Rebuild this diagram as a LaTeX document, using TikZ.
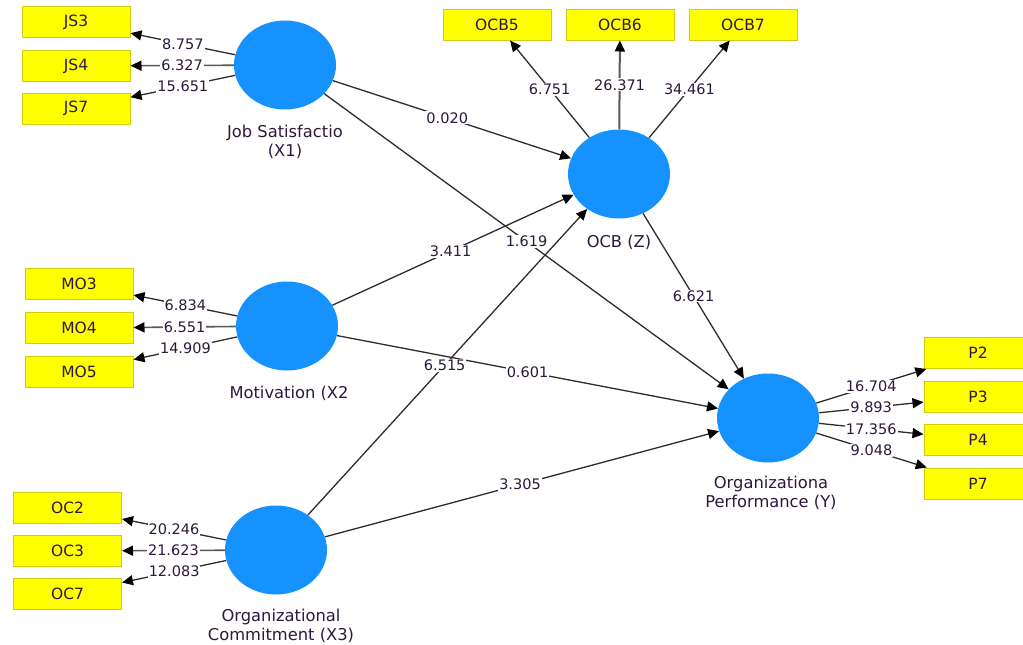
\documentclass[tikz,border=0pt]{standalone}
\usepackage{fontspec}
\setmainfont{DejaVu Sans}
\usetikzlibrary{shapes.geometric,arrows.meta}
\definecolor{lvblue}{RGB}{22,146,255}
\definecolor{boxyellow}{RGB}{255,255,0}
\definecolor{boxedge}{RGB}{205,205,20}
\definecolor{txt}{RGB}{45,25,60}
\definecolor{linegray}{RGB}{45,45,45}
\begin{document}
\begin{tikzpicture}[x=1pt,y=-1pt,
  latent/.style={ellipse,fill=lvblue,minimum width=102pt,minimum height=89pt,inner sep=0pt},
  indic/.style={rectangle,fill=boxyellow,draw=boxedge,line width=1pt,minimum width=108pt,minimum height=31pt,inner sep=0pt,text=txt,font=\fontsize{15.5}{18}\selectfont},
  conn/.style={draw=linegray,line width=1.3pt,-{Triangle[length=11pt,width=10pt,color=black]}},
  num/.style={fill=white,inner sep=1pt,text=txt,font=\fontsize{14.5}{16}\selectfont},
  lvlabel/.style={text=txt,font=\fontsize{16.3}{19.5}\selectfont,align=center}]
\clip (0,0) rectangle (1023,645);
\fill[white] (0,0) rectangle (1023,645);
% latent variables
\node[latent] (js) at (285,65) {};
\node[latent] (ocb) at (619,174) {};
\node[latent] (mo) at (287,326) {};
\node[latent] (oc) at (276,550) {};
\node[latent] (op) at (768,418) {};
% indicators
\node[indic] (js3) at (76,22) {JS3};
\node[indic] (js4) at (76,66) {JS4};
\node[indic] (js7) at (76,108.5) {JS7};
\node[indic] (ocb5) at (497,24.5) {OCB5};
\node[indic] (ocb6) at (620,24.5) {OCB6};
\node[indic] (ocb7) at (743,24.5) {OCB7};
\node[indic] (mo3) at (79,284) {MO3};
\node[indic] (mo4) at (79,328) {MO4};
\node[indic] (mo5) at (79,371.5) {MO5};
\node[indic] (oc2) at (67.5,508) {OC2};
\node[indic] (oc3) at (67.5,551) {OC3};
\node[indic] (oc7) at (67.5,594) {OC7};
\node[indic] (p2) at (978,353) {P2};
\node[indic] (p3) at (978,396.5) {P3};
\node[indic] (p4) at (978,440) {P4};
\node[indic] (p7) at (978,483.5) {P7};
% latent labels
\node[lvlabel] (jsl) at (285,142) {Job Satisfactio\\(X1)};
\node[lvlabel] (ocbl) at (619,242) {OCB (Z)};
\node[lvlabel] (mol) at (289,393) {Motivation (X2};
\node[lvlabel] (ocl) at (281,626) {Organizational\\Commitment (X3)};
\node[lvlabel] (opl) at (771,493) {Organizationa\\Performance (Y)};
% structural paths
\draw[conn] (js) -- node[num,pos=0.48]{0.020} (ocb);
\draw[conn] (js) -- node[num,pos=0.5]{1.619} (op);
\draw[conn] (mo) -- node[num,pos=0.49]{3.411} (ocb);
\draw[conn] (mo) -- node[num,pos=0.5]{0.601} (op);
\draw[conn] (oc) -- node[num,pos=0.49]{6.515} (ocb);
\draw[conn] (oc) -- node[num,pos=0.495]{3.305} (op);
\draw[conn] (ocb) -- node[num,pos=0.5]{6.621} (op);
% outer loadings
\draw[conn] (js) -- node[num]{8.757} (js3);
\draw[conn,draw=gray!70!black,line width=1.6pt] (js) -- node[num]{6.327} (js4);
\draw[conn] (js) -- node[num]{15.651} (js7);
\draw[conn] (ocb) -- node[num]{6.751} (ocb5);
\draw[conn,draw=gray!70!black,line width=2pt] (ocb) -- node[num]{26.371} (ocb6);
\draw[conn] (ocb) -- node[num]{34.461} (ocb7);
\draw[conn] (mo) -- node[num]{6.834} (mo3);
\draw[conn,draw=gray!70!black,line width=1.6pt] (mo) -- node[num]{6.551} (mo4);
\draw[conn] (mo) -- node[num]{14.909} (mo5);
\draw[conn] (oc) -- node[num]{20.246} (oc2);
\draw[conn,draw=gray!70!black,line width=1.6pt] (oc) -- node[num]{21.623} (oc3);
\draw[conn] (oc) -- node[num]{12.083} (oc7);
\draw[conn] (op) -- node[num]{16.704} (p2);
\draw[conn] (op) -- node[num]{9.893} (p3);
\draw[conn] (op) -- node[num]{17.356} (p4);
\draw[conn] (op) -- node[num]{9.048} (p7);
\end{tikzpicture}
\end{document}
